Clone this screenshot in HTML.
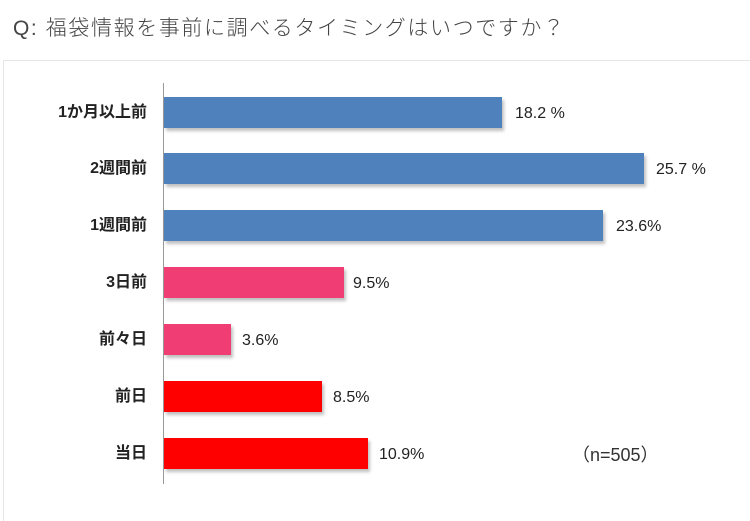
<!DOCTYPE html>
<html><head><meta charset="utf-8"><style>
body{margin:0;width:750px;height:508px;background:#fff;position:relative;overflow:hidden;font-family:"Liberation Sans","Noto Sans CJK JP",sans-serif;}
.t{position:absolute;left:13px;top:12px;font-size:21px;color:#444;letter-spacing:1.6px;font-weight:300}
.box{position:absolute;left:3px;top:60px;width:760px;height:460px;border-left:1px solid #e6e6e6;border-top:1px solid #e6e6e6}
.ax{position:absolute;left:163px;top:83px;width:1px;height:401px;background:#999}
.bar{position:absolute;left:164px;height:31px;box-shadow:2px 3px 3px rgba(0,0,0,0.25)}
.b{background:#4f81bd}.p{background:#f03e74}.r{background:#ff0000}
.l{position:absolute;right:603px;font-size:16px;font-weight:bold;color:#222;line-height:31px;white-space:nowrap}
.v{position:absolute;font-size:16px;color:#222;line-height:31px;white-space:nowrap}
.n{position:absolute;left:572px;top:440px;font-size:18px;color:#333;line-height:31px}
</style></head><body>
<div class="t">Q: 福袋情報を事前に調べるタイミングはいつですか？</div>
<div class="box"></div>
<div class="ax"></div>

<div class="l" style="top:97px">1か月以上前</div>
<div class="bar b" style="top:97px;width:338px"></div>
<div class="v" style="top:98px;left:515px">18.2 %</div>

<div class="l" style="top:153px">2週間前</div>
<div class="bar b" style="top:153px;width:480px"></div>
<div class="v" style="top:154px;left:656px">25.7 %</div>

<div class="l" style="top:210px">1週間前</div>
<div class="bar b" style="top:210px;width:439px"></div>
<div class="v" style="top:211px;left:616px">23.6%</div>

<div class="l" style="top:267px">3日前</div>
<div class="bar p" style="top:267px;width:180px"></div>
<div class="v" style="top:268px;left:353px">9.5%</div>

<div class="l" style="top:324px">前々日</div>
<div class="bar p" style="top:324px;width:67px"></div>
<div class="v" style="top:325px;left:242px">3.6%</div>

<div class="l" style="top:381px">前日</div>
<div class="bar r" style="top:381px;width:158px"></div>
<div class="v" style="top:382px;left:333px">8.5%</div>

<div class="l" style="top:438px">当日</div>
<div class="bar r" style="top:438px;width:204px"></div>
<div class="v" style="top:439px;left:379px">10.9%</div>

<div class="n">（n=505）</div>
</body></html>
